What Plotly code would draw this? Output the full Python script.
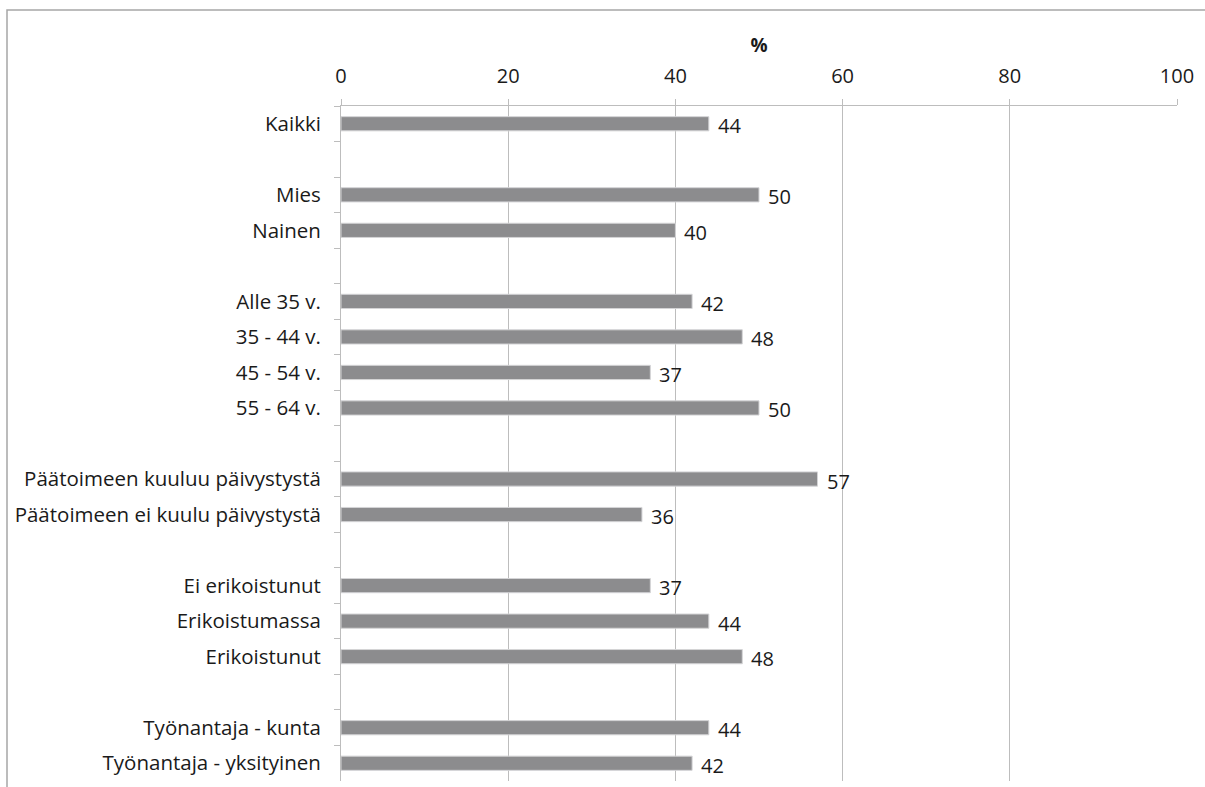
import plotly.graph_objects as go

# Row labels (blank strings act as spacer rows between groups)
categories = [
    "Kaikki", " ",
    "Mies", "Nainen", "  ",
    "Alle 35 v.", "35 - 44 v.", "45 - 54 v.", "55 - 64 v.", "   ",
    "Päätoimeen kuuluu päivystystä", "Päätoimeen ei kuulu päivystystä", "    ",
    "Ei erikoistunut", "Erikoistumassa", "Erikoistunut", "     ",
    "Työnantaja - kunta", "Työnantaja - yksityinen",
]
values = [
    44, None,
    50, 40, None,
    42, 48, 37, 50, None,
    57, 36, None,
    37, 44, 48, None,
    44, 42,
]
x_ticks = [0, 20, 40, 60, 80, 100]

FONT = "Open Sans"
TEXT = "#1a1a1a"
GRID = "#bdbdbd"

fig = go.Figure()
fig.add_trace(go.Bar(
    x=values,
    y=categories,
    orientation="h",
    width=0.4,
    marker=dict(color="#8c8c8e", line=dict(color="#d4d4d6", width=1)),
    hoverinfo="skip",
))

# Value labels next to each bar end
for cat, val in zip(categories, values):
    if val is None:
        continue
    fig.add_annotation(
        x=val, y=cat, text=str(val), showarrow=False,
        xanchor="left", yanchor="middle", xshift=7, yshift=-2,
        font=dict(family=FONT, size=20, color=TEXT),
    )

# Outer chart frame
fig.add_shape(
    type="rect", xref="paper", yref="paper",
    x0=-334 / 836, x1=1.2, y0=-0.2, y1=1 + 96 / 675,
    line=dict(color="#a6a6a6", width=1.5), fillcolor="rgba(0,0,0,0)",
    layer="below",
)

fig.update_layout(
    width=1205, height=787,
    margin=dict(l=341, r=28, t=106, b=6),
    paper_bgcolor="white", plot_bgcolor="white",
    showlegend=False,
    font=dict(family=FONT, size=20, color=TEXT),
    xaxis=dict(
        side="top", range=[0, 100], tickvals=x_ticks,
        showgrid=True, gridcolor=GRID, gridwidth=1,
        showline=True, linecolor=GRID, linewidth=1,
        ticks="outside", ticklen=6, tickcolor=GRID,
        tickfont=dict(family=FONT, size=20, color=TEXT),
        ticklabelstandoff=8,
        zeroline=False,
        title=dict(text="<b>%</b>", font=dict(family=FONT, size=19, color=TEXT), standoff=4),
    ),
    yaxis=dict(
        categoryorder="array", categoryarray=categories,
        autorange="reversed",
        showline=True, linecolor=GRID, linewidth=1,
        ticks="outside", ticklen=6, tickcolor=GRID, tickson="boundaries",
        tickfont=dict(family=FONT, size=20.5, color=TEXT),
        ticklabelstandoff=15,
        showgrid=False,
    ),
)

fig.write_html("out.html")
